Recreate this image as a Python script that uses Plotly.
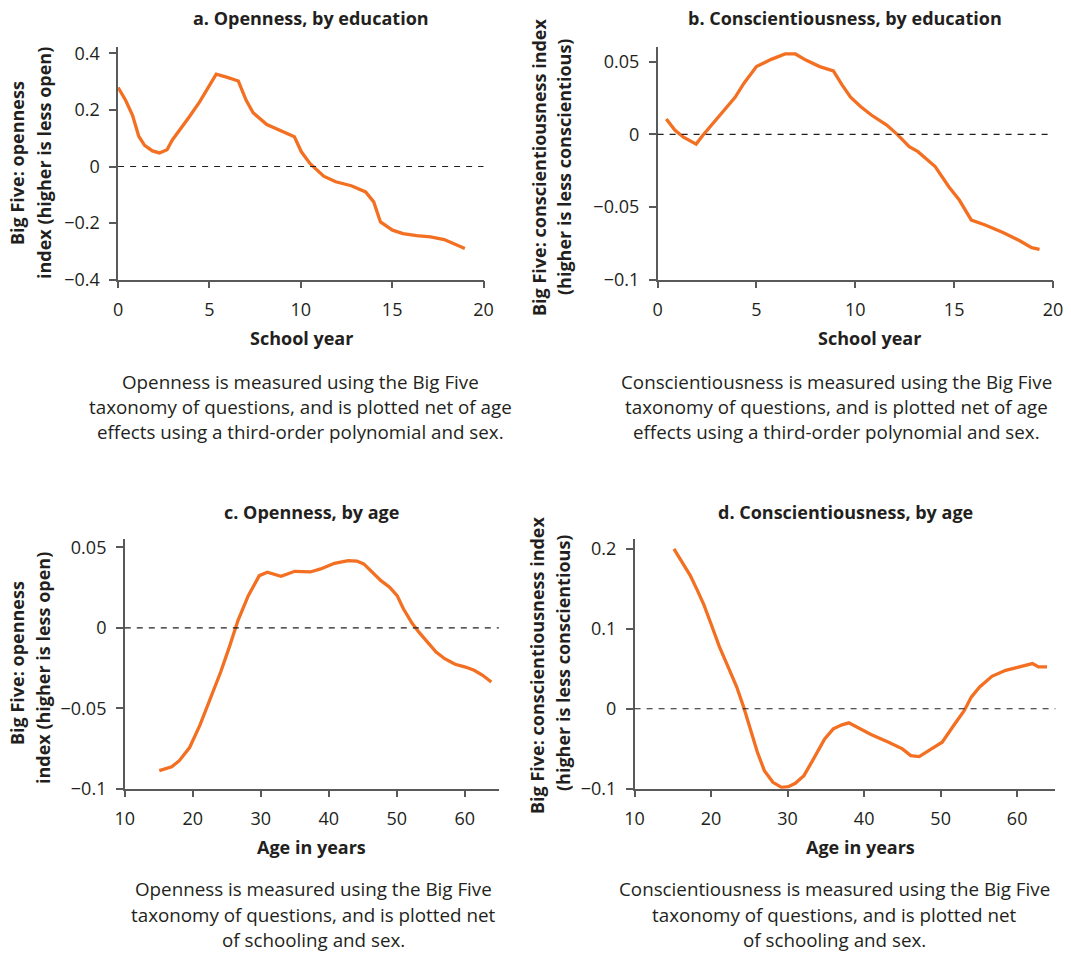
import plotly.graph_objects as plotly_go

# ---- data ----
edu_open_x = [0, 0.41, 0.79, 1.13, 1.45, 1.88, 2.26, 2.68, 2.96, 3.34, 3.90, 4.47,
              4.94, 5.37, 5.98, 6.58, 7.01, 7.39, 8.14, 8.90, 9.65, 10.03, 10.50,
              11.25, 11.91, 12.76, 13.55, 13.99, 14.36, 15.02, 15.59, 16.34, 17.10,
              17.85, 18.42, 18.98]
edu_open_y = [0.279, 0.234, 0.181, 0.107, 0.075, 0.055, 0.048, 0.059, 0.093, 0.125,
              0.176, 0.229, 0.279, 0.326, 0.315, 0.302, 0.234, 0.190, 0.148, 0.125,
              0.105, 0.052, 0.011, -0.034, -0.054, -0.068, -0.090, -0.125, -0.196,
              -0.225, -0.237, -0.244, -0.249, -0.258, -0.275, -0.290]

edu_consc_x = [0.44, 0.87, 1.31, 1.95, 2.27, 2.62, 3.05, 3.49, 3.92, 4.36, 5.0, 5.75,
               6.45, 6.97, 7.50, 8.20, 8.89, 9.33, 9.76, 10.28, 10.81, 11.59, 12.12,
               12.73, 13.17, 14.04, 14.73, 15.26, 15.87, 16.57, 17.44, 18.32, 18.92,
               19.32]
edu_consc_y = [0.0106, 0.003, -0.002, -0.0067, -0.001, 0.0048, 0.0117, 0.019, 0.0255,
               0.035, 0.0466, 0.0516, 0.0553, 0.0553, 0.0511, 0.0466, 0.0436, 0.034,
               0.0255, 0.019, 0.0133, 0.0064, 0.0, -0.0085, -0.0119, -0.0222, -0.036,
               -0.0452, -0.059, -0.0624, -0.0674, -0.0732, -0.078, -0.0791]

age_open_x = [15.07, 16.9, 18.01, 19.53, 21.05, 22.57, 24.1, 25.37, 26.64, 28.16,
              29.78, 30.96, 31.97, 32.97, 35.0, 37.28, 38.8, 40.83, 42.86, 44.12,
              45.14, 46.41, 47.67, 48.94, 50.05, 50.97, 52.23, 53.25, 54.51, 55.78,
              57.05, 58.57, 60.1, 61.37, 62.63, 63.9]
age_open_y = [-0.0888, -0.0864, -0.0826, -0.0744, -0.0605, -0.0446, -0.0275, -0.012,
              0.0045, 0.020, 0.0324, 0.0345, 0.033, 0.032, 0.0351, 0.0347, 0.0366,
              0.0401, 0.0417, 0.0415, 0.0397, 0.0345, 0.0293, 0.0252, 0.020, 0.0118,
              0.0029, -0.0027, -0.0089, -0.0151, -0.0192, -0.0227, -0.0244, -0.0264,
              -0.0295, -0.0337]

age_consc_x = [15.14, 16.13, 17.26, 18.16, 19.06, 19.96, 21.09, 22.22, 23.35, 24.25,
               25.15, 26.05, 26.96, 28.08, 29.21, 30.1, 31.0, 32.13, 33.26, 34.84,
               35.97, 37.1, 38.0, 39.1, 40.9, 43.2, 45.0, 46.1, 47.2, 48.8, 50.2,
               51.7, 53.1, 54.0, 55.1, 56.7, 58.5, 60.3, 61.2, 62.0, 62.8, 63.9]
age_consc_y = [0.200, 0.184, 0.167, 0.149, 0.130, 0.107, 0.0774, 0.0523, 0.0272,
               0.0021, -0.0251, -0.0544, -0.0774, -0.092, -0.0983, -0.0975, -0.0933,
               -0.0837, -0.0649, -0.0377, -0.0251, -0.0201, -0.0176, -0.023, -0.0322,
               -0.0418, -0.0502, -0.0586, -0.0598, -0.0502, -0.0418, -0.0209, -0.0021,
               0.0146, 0.0272, 0.0406, 0.0481, 0.0523, 0.0544, 0.0565, 0.0523, 0.0523]

edu_ticks = [0, 5, 10, 15, 20]
age_ticks = [10, 20, 30, 40, 50, 60]
open_edu_yticks = [-0.4, -0.2, 0, 0.2, 0.4]
open_edu_ylabels = ["\u22120.4", "\u22120.2", "0", "0.2", "0.4"]
small_yticks = [-0.1, -0.05, 0, 0.05]
small_ylabels = ["\u22120.1", "\u22120.05", "0", "0.05"]
consc_age_yticks = [-0.1, 0, 0.1, 0.2]
consc_age_ylabels = ["\u22120.1", "0", "0.1", "0.2"]

panel_titles = ["a. Openness, by education", "b. Conscientiousness, by education",
                "c. Openness, by age", "d. Conscientiousness, by age"]
x_titles = ["School year", "School year", "Age in years", "Age in years"]
y_titles = [["Big Five: openness", "index (higher is less open)"],
            ["Big Five: conscientiousness index", "(higher is less conscientious)"],
            ["Big Five: openness", "index (higher is less open)"],
            ["Big Five: conscientiousness index", "(higher is less conscientious)"]]
captions = [["Openness is measured using the Big Five",
             "taxonomy of questions, and is plotted net of age",
             "effects using a third-order polynomial and sex."],
            ["Conscientiousness is measured using the Big Five",
             "taxonomy of questions, and is plotted net of age",
             "effects using a third-order polynomial and sex."],
            ["Openness is measured using the Big Five",
             "taxonomy of questions, and is plotted net",
             "of schooling and sex."],
            ["Conscientiousness is measured using the Big Five",
             "taxonomy of questions, and is plotted net",
             "of schooling and sex."]]

W, H = 1071, 953
ORANGE = "#F36F21"
AXIS = "#58595B"
TEXT = "#231F20"
FONT = "Open Sans"


def px(x):
    return x / W


def py(y):
    return 1 - y / H


def main() -> None:
    fig = plotly_go.Figure()

    # pixel boxes of each plot area: (left, right, top, bottom)
    boxes = [(118.1, 483.5, 46.7, 279.7), (657.6, 1053.0, 46.7, 279.7),
             (124.8, 498.8, 539.3, 788.7), (634.6, 1055.4, 539.3, 788.7)]
    xranges = [[0, 20], [0, 20], [10, 65], [10, 65]]
    yranges = [[-0.4, 0.4233], [-0.1, 0.0603], [-0.1, 0.055], [-0.1, 0.212]]
    xticks = [edu_ticks, edu_ticks, age_ticks, age_ticks]
    yticks = [(open_edu_yticks, open_edu_ylabels), (small_yticks, small_ylabels),
              (small_yticks, small_ylabels), (consc_age_yticks, consc_age_ylabels)]
    series = [(edu_open_x, edu_open_y), (edu_consc_x, edu_consc_y),
              (age_open_x, age_open_y), (age_consc_x, age_consc_y)]

    # title / label pixel positions per panel
    title_pos = [(311, 18), (845, 18), (311, 512), (845, 512)]
    xtitle_pos = [(301, 338), (869, 338), (311, 847), (860, 847)]
    ytitle_pos = [[(17, 163), (44, 163)], [(539, 168), (564, 167)],
                  [(17, 663), (43, 668)], [(537, 666), (563, 663)]]
    caption_pos = [(300, [382, 407, 432]), (836, [382, 407, 432]),
                   (313, [889, 914.5, 939.5]), (834, [889, 914.5, 939.5])]

    annotations = []
    shapes = []
    for i in range(4):
        n = "" if i == 0 else str(i + 1)
        left, right, top, bottom = boxes[i]
        xs, ys = series[i]
        fig.add_trace(plotly_go.Scatter(
            x=xs, y=ys, mode="lines", xaxis="x" + n, yaxis="y" + n,
            line=dict(color=ORANGE, width=3.3), showlegend=False, hoverinfo="skip"))

        axis_common = dict(showline=True, linecolor=AXIS, linewidth=1.5,
                           ticks="outside", ticklen=7, tickwidth=1.5, tickcolor=AXIS,
                           showgrid=False, zeroline=False, automargin=False,
                           tickfont=dict(family=FONT, size=18, color=TEXT))
        fig.update_layout({
            "xaxis" + n: dict(domain=[px(left), px(right)], range=xranges[i],
                              tickvals=xticks[i], anchor="y" + n,
                              ticklabelstandoff=6, **axis_common),
            "yaxis" + n: dict(domain=[py(bottom), py(top)], range=yranges[i],
                              tickvals=yticks[i][0], ticktext=yticks[i][1],
                              anchor="x" + n, ticklabelstandoff=6, **axis_common),
        })

        # dashed zero reference line
        shapes.append(dict(type="line", xref="x" + n + " domain", x0=0, x1=1,
                           yref="y" + n, y0=0, y1=0,
                           line=dict(color="#231F20", width=1.2, dash="6px,6px")))

        annotations.append(dict(text="<b>" + panel_titles[i] + "</b>",
                                x=px(title_pos[i][0]), y=py(title_pos[i][1]),
                                font=dict(family=FONT, size=18, color=TEXT)))
        annotations.append(dict(text="<b>" + x_titles[i] + "</b>",
                                x=px(xtitle_pos[i][0]), y=py(xtitle_pos[i][1]),
                                font=dict(family=FONT, size=18, color=TEXT)))
        for line, (lx, ly) in zip(y_titles[i], ytitle_pos[i]):
            annotations.append(dict(text="<b>" + line + "</b>", textangle=-90,
                                    x=px(lx), y=py(ly),
                                    font=dict(family=FONT, size=18, color=TEXT)))
        cx, cys = caption_pos[i]
        for line, cy in zip(captions[i], cys):
            annotations.append(dict(text=line, x=px(cx), y=py(cy),
                                    font=dict(family=FONT, size=18.8, color=TEXT)))

    for a in annotations:
        a.update(xref="paper", yref="paper", showarrow=False,
                 xanchor="center", yanchor="middle")

    fig.update_layout(
        width=W, height=H,
        margin=dict(l=0, r=0, t=0, b=0, autoexpand=False),
        paper_bgcolor="white", plot_bgcolor="white",
        annotations=annotations, shapes=shapes,
        font=dict(family=FONT, color=TEXT),
    )

    # drop the default 8px body margin so the figure sits flush with the window
    fig.write_html("out.html", config={"displayModeBar": False},
                   post_script="document.body.style.margin = '0';")


if __name__ == "__main__":
    main()
